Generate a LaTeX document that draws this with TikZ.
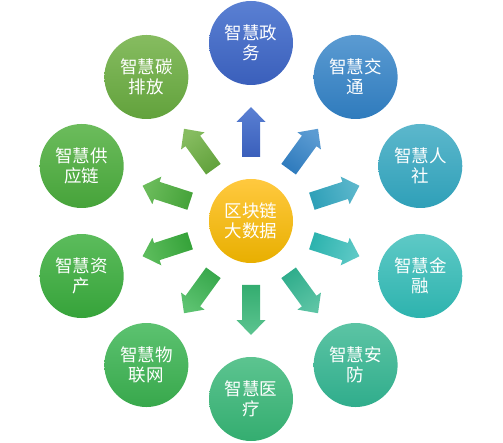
\documentclass[tikz,border=0pt]{standalone}
\usepackage{fontspec}
\setmainfont{Noto Sans CJK SC}
\usetikzlibrary{calc}
\definecolor{zwL}{HTML}{5A80D3}\definecolor{zwD}{HTML}{3A5FBB}
\definecolor{jtL}{HTML}{5B9BD2}\definecolor{jtD}{HTML}{2F7BBD}
\definecolor{rsL}{HTML}{5CB7CC}\definecolor{rsD}{HTML}{2FA0B8}
\definecolor{jrL}{HTML}{5EC9C6}\definecolor{jrD}{HTML}{2DB3AE}
\definecolor{afL}{HTML}{5CC4A4}\definecolor{afD}{HTML}{30AD8C}
\definecolor{ylL}{HTML}{5CC490}\definecolor{ylD}{HTML}{34AD70}
\definecolor{wlL}{HTML}{5CC270}\definecolor{wlD}{HTML}{38A84C}
\definecolor{zcL}{HTML}{5CBC5C}\definecolor{zcD}{HTML}{36A33A}
\definecolor{gyL}{HTML}{6CBC5C}\definecolor{gyD}{HTML}{46A33A}
\definecolor{tpL}{HTML}{86BC60}\definecolor{tpD}{HTML}{62A23C}
\definecolor{hubL}{HTML}{FFC93F}\definecolor{hubD}{HTML}{E8AF00}
\tikzset{
  bubble/.style={circle, minimum size=84pt, inner sep=0pt, text=white,
    align=center, font=\fontsize{17.5}{20}\selectfont},
}
\newcommand{\blockarr}[4]{%
 \pgfmathsetmacro\sa{#1-90}%
 \path[left color=#2,right color=#3,shading angle=\sa]
  ($(hub.center)!64pt!(#4.center)!9pt!90:(#4.center)$) --
  ($(hub.center)!99pt!(#4.center)!9pt!90:(#4.center)$) --
  ($(hub.center)!99pt!(#4.center)!14.5pt!90:(#4.center)$) --
  ($(hub.center)!114pt!(#4.center)$) --
  ($(hub.center)!99pt!(#4.center)!14.5pt!-90:(#4.center)$) --
  ($(hub.center)!99pt!(#4.center)!9pt!-90:(#4.center)$) --
  ($(hub.center)!64pt!(#4.center)!9pt!-90:(#4.center)$) -- cycle;
}
\begin{document}
\begin{tikzpicture}[x=1pt,y=1pt]
\useasboundingbox (0,0) rectangle (503,442);
\node[bubble, top color=hubL, bottom color=hubD] (hub) at (251,221) {区块链\\大数据};
\node[bubble, top color=zwL, bottom color=zwD] (zw) at ($(hub.center)+(90:178)$) {智慧政\\务};
\node[bubble, top color=jtL, bottom color=jtD] (jt) at ($(hub.center)+(54:178)$) {智慧交\\通};
\node[bubble, top color=rsL, bottom color=rsD] (rs) at ($(hub.center)+(18:178)$) {智慧人\\社};
\node[bubble, top color=jrL, bottom color=jrD] (jr) at ($(hub.center)+(-18:178)$) {智慧金\\融};
\node[bubble, top color=afL, bottom color=afD] (af) at ($(hub.center)+(-54:178)$) {智慧安\\防};
\node[bubble, top color=ylL, bottom color=ylD] (yl) at ($(hub.center)+(-90:178)$) {智慧医\\疗};
\node[bubble, top color=wlL, bottom color=wlD] (wl) at ($(hub.center)+(-126:178)$) {智慧物\\联网};
\node[bubble, top color=zcL, bottom color=zcD] (zc) at ($(hub.center)+(-162:178)$) {智慧资\\产};
\node[bubble, top color=gyL, bottom color=gyD] (gy) at ($(hub.center)+(162:178)$) {智慧供\\应链};
\node[bubble, top color=tpL, bottom color=tpD] (tp) at ($(hub.center)+(126:178)$) {智慧碳\\排放};
\blockarr{90}{zwL}{zwD}{zw}
\blockarr{54}{jtL}{jtD}{jt}
\blockarr{18}{rsL}{rsD}{rs}
\blockarr{-18}{jrL}{jrD}{jr}
\blockarr{-54}{afL}{afD}{af}
\blockarr{-90}{ylL}{ylD}{yl}
\blockarr{-126}{wlL}{wlD}{wl}
\blockarr{-162}{zcL}{zcD}{zc}
\blockarr{162}{gyL}{gyD}{gy}
\blockarr{126}{tpL}{tpD}{tp}
\end{tikzpicture}
\end{document}
